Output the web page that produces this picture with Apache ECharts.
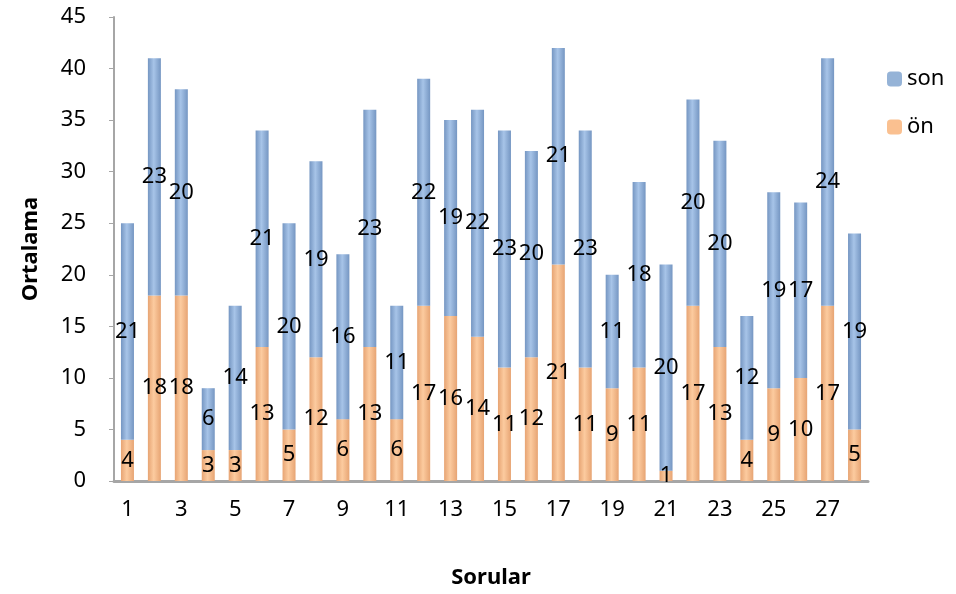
<!DOCTYPE html>
<html>
<head>
<meta charset="utf-8">
<script src="https://cdn.jsdelivr.net/npm/echarts@6/dist/echarts.min.js"></script>
<style>
  html, body { margin: 0; padding: 0; background: #fff; }
  #chart { width: 956px; height: 594px; }
</style>
</head>
<body>
<div id="chart"></div>
<script>
// soru numaraları
const sorular = Array.from({ length: 28 }, (_, i) => String(i + 1));
// ön test ortalamaları (turuncu, altta)
const onValues = [4, 18, 18, 3, 3, 13, 5, 12, 6, 13, 6, 17, 16, 14, 11, 12, 21, 11, 9, 11, 1, 17, 13, 4, 9, 10, 17, 5];
// son test ortalamaları (mavi, üstte)
const sonValues = [21, 23, 20, 6, 14, 21, 20, 19, 16, 23, 11, 22, 19, 22, 23, 20, 21, 23, 11, 18, 20, 20, 20, 12, 19, 17, 24, 19];

const FONT = 'Noto Sans';
const FS = 22;

// silindir görünümü için yatay gradyan
function cyl(edge, mid) {
  return new echarts.graphic.LinearGradient(0, 0, 1, 0, [
    { offset: 0, color: edge },
    { offset: 0.45, color: mid },
    { offset: 1, color: edge }
  ]);
}

const chart = echarts.init(document.getElementById('chart'));
chart.setOption({
  animation: false,
  textStyle: { fontFamily: FONT },
  grid: { left: 114, right: 88, top: 17, bottom: 109 },
  legend: {
    orient: 'vertical',
    left: 882,
    top: 63,
    itemWidth: 15,
    itemHeight: 15,
    itemGap: 26,
    data: [
      { name: 'son', itemStyle: { color: '#95B3D7' } },
      { name: 'ön', itemStyle: { color: '#FAC090' } }
    ],
    textStyle: { fontSize: FS, color: '#000', fontFamily: FONT }
  },
  xAxis: {
    type: 'category',
    data: sorular,
    name: 'Sorular',
    nameLocation: 'middle',
    nameGap: 86,
    nameTextStyle: { fontSize: FS, fontWeight: 'bold', color: '#000', fontFamily: FONT },
    axisLine: { lineStyle: { color: '#A6A6A6', width: 3 } },
    axisTick: { show: false },
    axisLabel: { interval: 1, margin: 18, fontSize: FS, color: '#000', fontFamily: FONT }
  },
  yAxis: {
    type: 'value',
    min: 0,
    max: 45,
    interval: 5,
    name: 'Ortalama',
    nameLocation: 'middle',
    nameGap: 72,
    nameTextStyle: { fontSize: FS, fontWeight: 'bold', color: '#000', fontFamily: FONT },
    axisLine: { show: true, lineStyle: { color: '#A6A6A6', width: 2 } },
    axisTick: { show: true, length: 5, lineStyle: { color: '#A6A6A6' } },
    splitLine: { show: false },
    axisLabel: { margin: 28, fontSize: FS, color: '#000', fontFamily: FONT }
  },
  series: [
    {
      name: 'ön',
      type: 'bar',
      stack: 'toplam',
      barWidth: 13,
      data: onValues,
      itemStyle: { color: cyl('#E7A473', '#FCCB9F') },
      label: { show: true, position: 'inside', fontSize: FS, color: '#000', fontFamily: FONT }
    },
    {
      name: 'son',
      type: 'bar',
      stack: 'toplam',
      barWidth: 13,
      data: sonValues,
      itemStyle: { color: cyl('#7596C2', '#A7C4E8') },
      label: { show: true, position: 'inside', fontSize: FS, color: '#000', fontFamily: FONT }
    }
  ]
});
</script>
</body>
</html>
